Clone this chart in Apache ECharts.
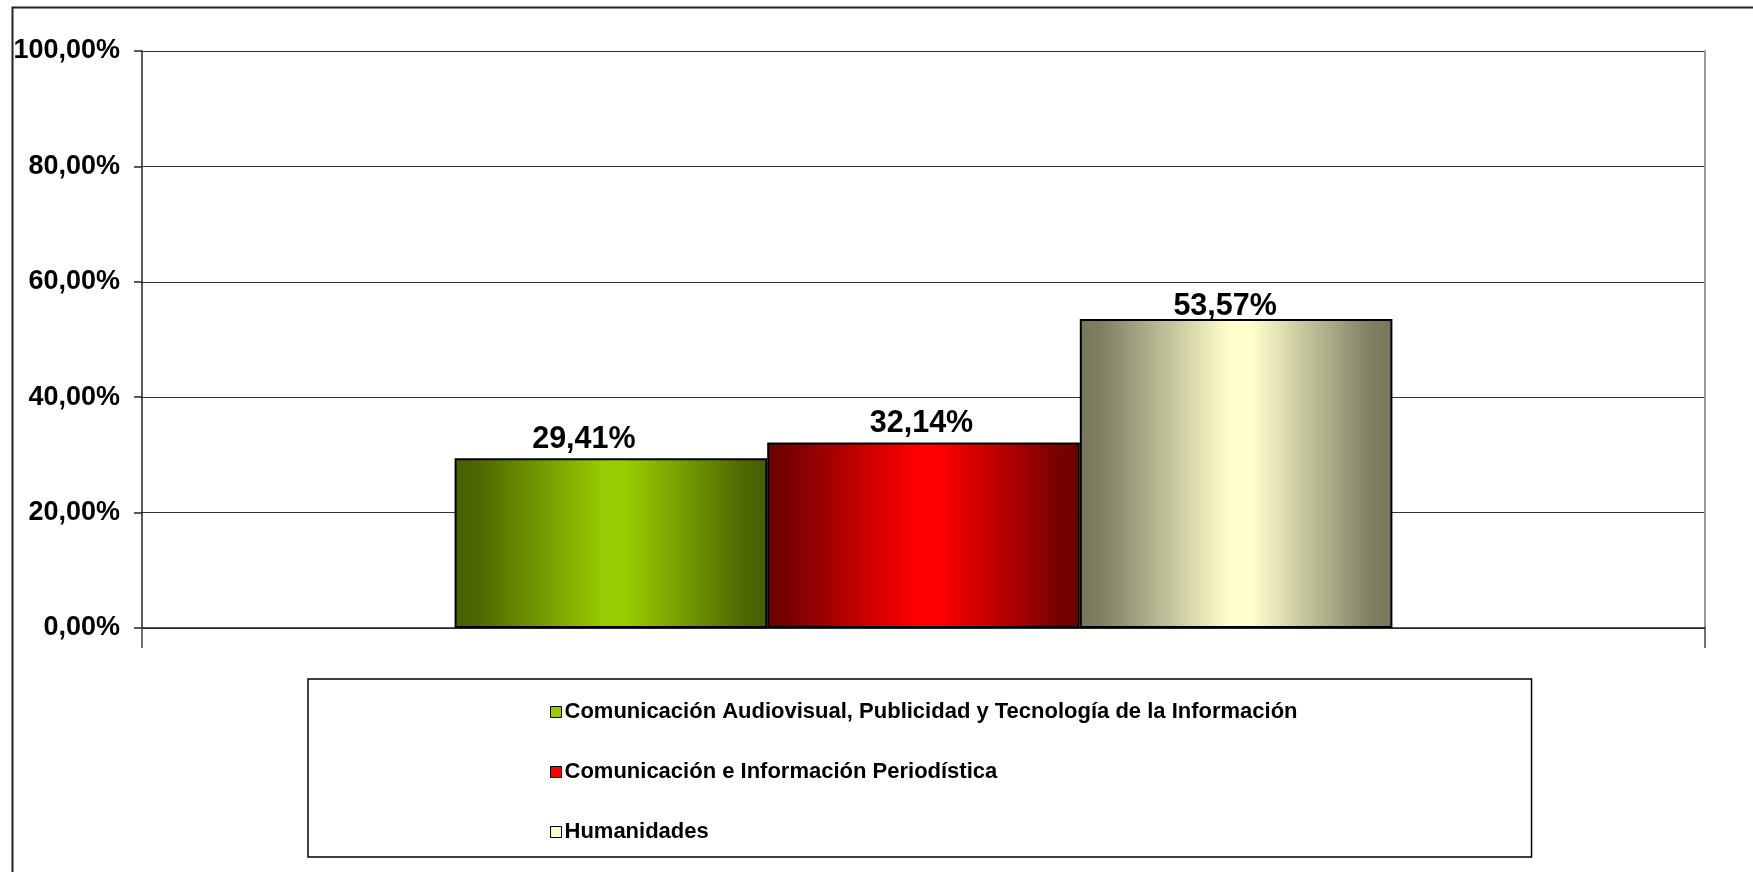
<!DOCTYPE html>
<html>
<head>
<meta charset="utf-8">
<script src="https://cdn.jsdelivr.net/npm/echarts@6/dist/echarts.min.js"></script>
<style>
  html, body { margin: 0; padding: 0; background: #fff; }
  #chart { width: 1753px; height: 872px; }
</style>
</head>
<body>
<div id="chart"></div>
<script>
// datos
var categorias = [''];
var carreras = [
  'Comunicación Audiovisual, Publicidad y Tecnología de la Información',
  'Comunicación e Información Periodística',
  'Humanidades'
];
var porcentajes = [29.41, 32.14, 53.57];
var ejeMin = 0, ejeMax = 100, ejePaso = 20;

var font = 'Arial, "Liberation Sans", sans-serif';

function pct(v) {
  return v.toFixed(2).replace('.', ',') + '%';
}

function grad(borde, medio, centro) {
  return new echarts.graphic.LinearGradient(0, 0, 1, 0, [
    { offset: 0, color: borde },
    { offset: 0.07, color: medio },
    { offset: 0.48, color: centro },
    { offset: 0.55, color: centro },
    { offset: 0.93, color: medio },
    { offset: 1, color: borde }
  ]);
}

var colores = [
  { solid: '#99cc00', fill: grad('#465f00', '#4d6700', '#99cc00') },
  { solid: '#ff0000', fill: grad('#6e0000', '#7a0000', '#ff0000') },
  { solid: '#ffffcc', fill: grad('#77775c', '#7f7f63', '#ffffcc') }
];
// desplazamiento de las etiquetas como en el original
var desplaz = [[-27, 0], [-2, 0], [-11, 6]];

var myChart = echarts.init(document.getElementById('chart'));

var series = carreras.map(function (nombre, i) {
  return {
    name: nombre,
    type: 'bar',
    barGap: '0%',
    barCategoryGap: '40%',
    data: [porcentajes[i]],
    itemStyle: {
      color: colores[i].fill,
      borderColor: '#000',
      borderWidth: 2
    },
    label: {
      show: true,
      position: 'top',
      distance: 3,
      offset: desplaz[i],
      color: '#000',
      fontFamily: font,
      fontWeight: 'bold',
      fontSize: 30.5,
      formatter: function (p) { return pct(p.value); }
    }
  };
});

var option = {
  backgroundColor: '#fff',
  animation: false,
  graphic: [{
    type: 'rect',
    left: 10,
    top: 5,
    shape: { width: 1800, height: 900 },
    style: { fill: 'none', stroke: '#222', lineWidth: 2 },
    z: -1
  }],
  grid: {
    left: 142,
    right: 48,
    top: 51,
    bottom: 244
  },
  legend: {
    orient: 'vertical',
    left: 308,
    top: 679,
    padding: [21, 234, 13, 242],
    borderColor: '#000',
    borderWidth: 1.5,
    itemGap: 36,
    itemWidth: 11,
    itemHeight: 11,
    icon: 'rect',
    selectedMode: false,
    data: carreras.map(function (n, i) {
      return { name: n, itemStyle: { color: colores[i].solid, borderColor: '#000', borderWidth: 1 } };
    }),
    textStyle: {
      color: '#000',
      fontFamily: font,
      fontWeight: 'bold',
      fontSize: 22,
      lineHeight: 24,
      padding: [0, 0, 0, -2]
    }
  },
  xAxis: {
    type: 'category',
    data: categorias,
    axisLine: { show: true, lineStyle: { color: '#222', width: 1.5 } },
    axisTick: { show: true, length: 20, lineStyle: { color: '#444', width: 1.5 } },
    axisLabel: { show: false },
    splitLine: { show: false }
  },
  yAxis: [{
    type: 'value',
    min: ejeMin,
    max: ejeMax,
    interval: ejePaso,
    axisLine: { show: true, lineStyle: { color: '#222', width: 1.5 } },
    axisTick: { show: true, length: 8, lineStyle: { color: '#222', width: 1.5 } },
    axisLabel: {
      margin: 22,
      color: '#000',
      fontFamily: font,
      fontWeight: 'bold',
      fontSize: 27,
      padding: [3, 0, 0, 0],
      formatter: function (v) { return pct(v); }
    },
    splitLine: { show: true, lineStyle: { color: '#333', width: 1.2 } }
  }, {
    type: 'value',
    position: 'right',
    min: ejeMin,
    max: ejeMax,
    interval: ejePaso,
    axisLine: { show: true, lineStyle: { color: '#999', width: 2 } },
    axisTick: { show: false },
    axisLabel: { show: false },
    splitLine: { show: false }
  }],
  series: series
};

myChart.setOption(option);
</script>
</body>
</html>
